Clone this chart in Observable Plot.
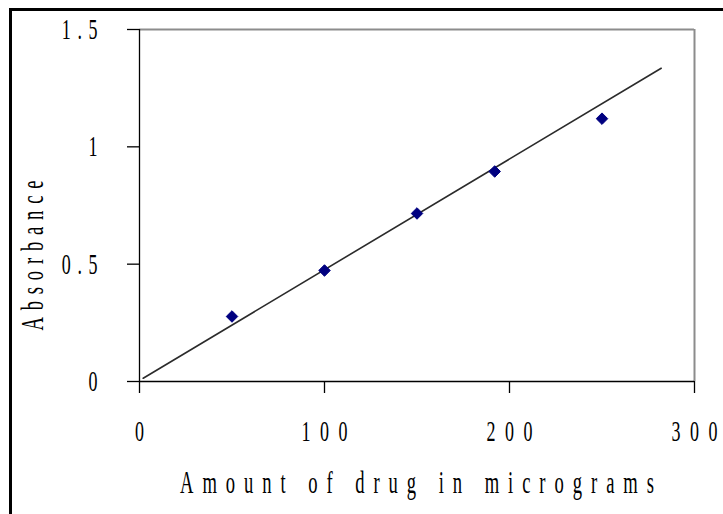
<!DOCTYPE html>
<html>
<head>
<meta charset="utf-8">
<script src="https://cdn.jsdelivr.net/npm/d3@7"></script>
<script src="https://cdn.jsdelivr.net/npm/@observablehq/plot@0.6"></script>
<style>
  html, body { margin: 0; padding: 0; background: #fff; overflow: hidden; }
  #wrap { position: relative; width: 723px; height: 514px; overflow: hidden; }
  #frame { position: absolute; left: 9px; top: 8px; width: 760px; height: 560px; border: 3px solid #000; box-sizing: border-box; }
  #chart { position: absolute; left: 0; top: 0; }
  #chart svg { background: transparent !important; }
</style>
</head>
<body>
<div id="wrap">
  <div id="frame"></div>
  <div id="chart"></div>
</div>
<script>
// Data
const amounts = [50, 100, 150, 192, 250];          // micrograms
const absorbance = [0.277, 0.473, 0.716, 0.895, 1.12];
const trendX = [2, 282];
const trendY = [0.014, 1.335];
const xTicks = [0, 100, 200, 300];
const yTicks = [0, 0.5, 1, 1.5];
const yTickLabels = ["0", "0.5", "1", "1.5"];
const xTitle = "Amount of drug in micrograms";
const yTitle = "Absorbance";

const points = amounts.map((a, i) => ({x: a, y: absorbance[i]}));
const trend = trendX.map((x, i) => ({x, y: trendY[i]}));

const serif = "'Liberation Serif', 'Times New Roman', serif";

const plot = Plot.plot({
  width: 723,
  height: 514,
  marginLeft: 139,
  marginRight: 29,
  marginTop: 29,
  marginBottom: 133,
  style: {fontFamily: serif, fontSize: "30px", color: "#000", background: "transparent"},
  x: {domain: [0, 300], type: "linear"},
  y: {domain: [0, 1.5], type: "linear"},
  marks: [
    // plot-area border (top and right, gray)
    Plot.ruleY([1.5], {stroke: "#8c8c8c", strokeWidth: 2}),
    Plot.ruleX([300], {stroke: "#8c8c8c", strokeWidth: 2}),
    // axis lines
    Plot.ruleX([0], {stroke: "#000", strokeWidth: 1.3}),
    Plot.ruleY([0], {stroke: "#000", strokeWidth: 1.3}),
    Plot.axisY({
      ticks: yTicks, tickFormat: (d) => yTickLabels[yTicks.indexOf(d)],
      tickSize: 12, tickPadding: 30, label: null, stroke: "#000", strokeWidth: 1.3,
      fontSize: 30, fill: "#000"
    }),
    Plot.axisX({
      ticks: xTicks, tickFormat: d => String(d),
      tickSize: 12, tickPadding: 26, label: null, stroke: "#000", strokeWidth: 1.3,
      fontSize: 30, fill: "#000"
    }),
    Plot.line(trend, {x: "x", y: "y", stroke: "#2b2b2b", strokeWidth: 1.6}),
    Plot.dot(points, {x: "x", y: "y", symbol: "diamond2", r: 5.2, fill: "#000080", stroke: "#000080", strokeWidth: 1}),
    // axis titles
    Plot.text([xTitle], {frameAnchor: "bottom", dy: 111, text: d => d, fontSize: 31, fill: "#000", className: "xt"}),
    Plot.text([yTitle], {frameAnchor: "left", textAnchor: "middle", dx: -106, dy: 50, rotate: -90, text: d => d, fontSize: 31, fill: "#000", className: "yt"})
  ]
});

document.getElementById("chart").appendChild(plot);

// Narrow, spaced serif text like the original
const sx = 0.6;
plot.querySelectorAll('g[aria-label="y-axis tick label"] text, g[aria-label="x-axis tick label"] text').forEach(t => {
  const tr = t.getAttribute("transform") || "";
  t.setAttribute("transform", tr + ` scale(${sx},1)`);
});
plot.querySelectorAll('g[aria-label="x-axis tick label"] text').forEach(t => {
  t.style.letterSpacing = "16px";
  t.setAttribute("dx", 8);
});
plot.querySelectorAll('g[aria-label="y-axis tick label"] text').forEach(t => {
  t.style.letterSpacing = "11px";
  t.setAttribute("dx", 11);
});
plot.querySelectorAll('.xt text').forEach(t => {
  const tr = t.getAttribute("transform") || "";
  t.setAttribute("transform", tr + ` scale(${sx},1)`);
  t.setAttribute("textLength", 474 / sx);
  t.setAttribute("lengthAdjust", "spacing");
});
plot.querySelectorAll('.yt text').forEach(t => {
  const tr = t.getAttribute("transform") || "";
  t.setAttribute("transform", tr + ` scale(${sx},1)`);
  t.setAttribute("textLength", 150 / sx);
  t.setAttribute("lengthAdjust", "spacing");
});
</script>
</body>
</html>
